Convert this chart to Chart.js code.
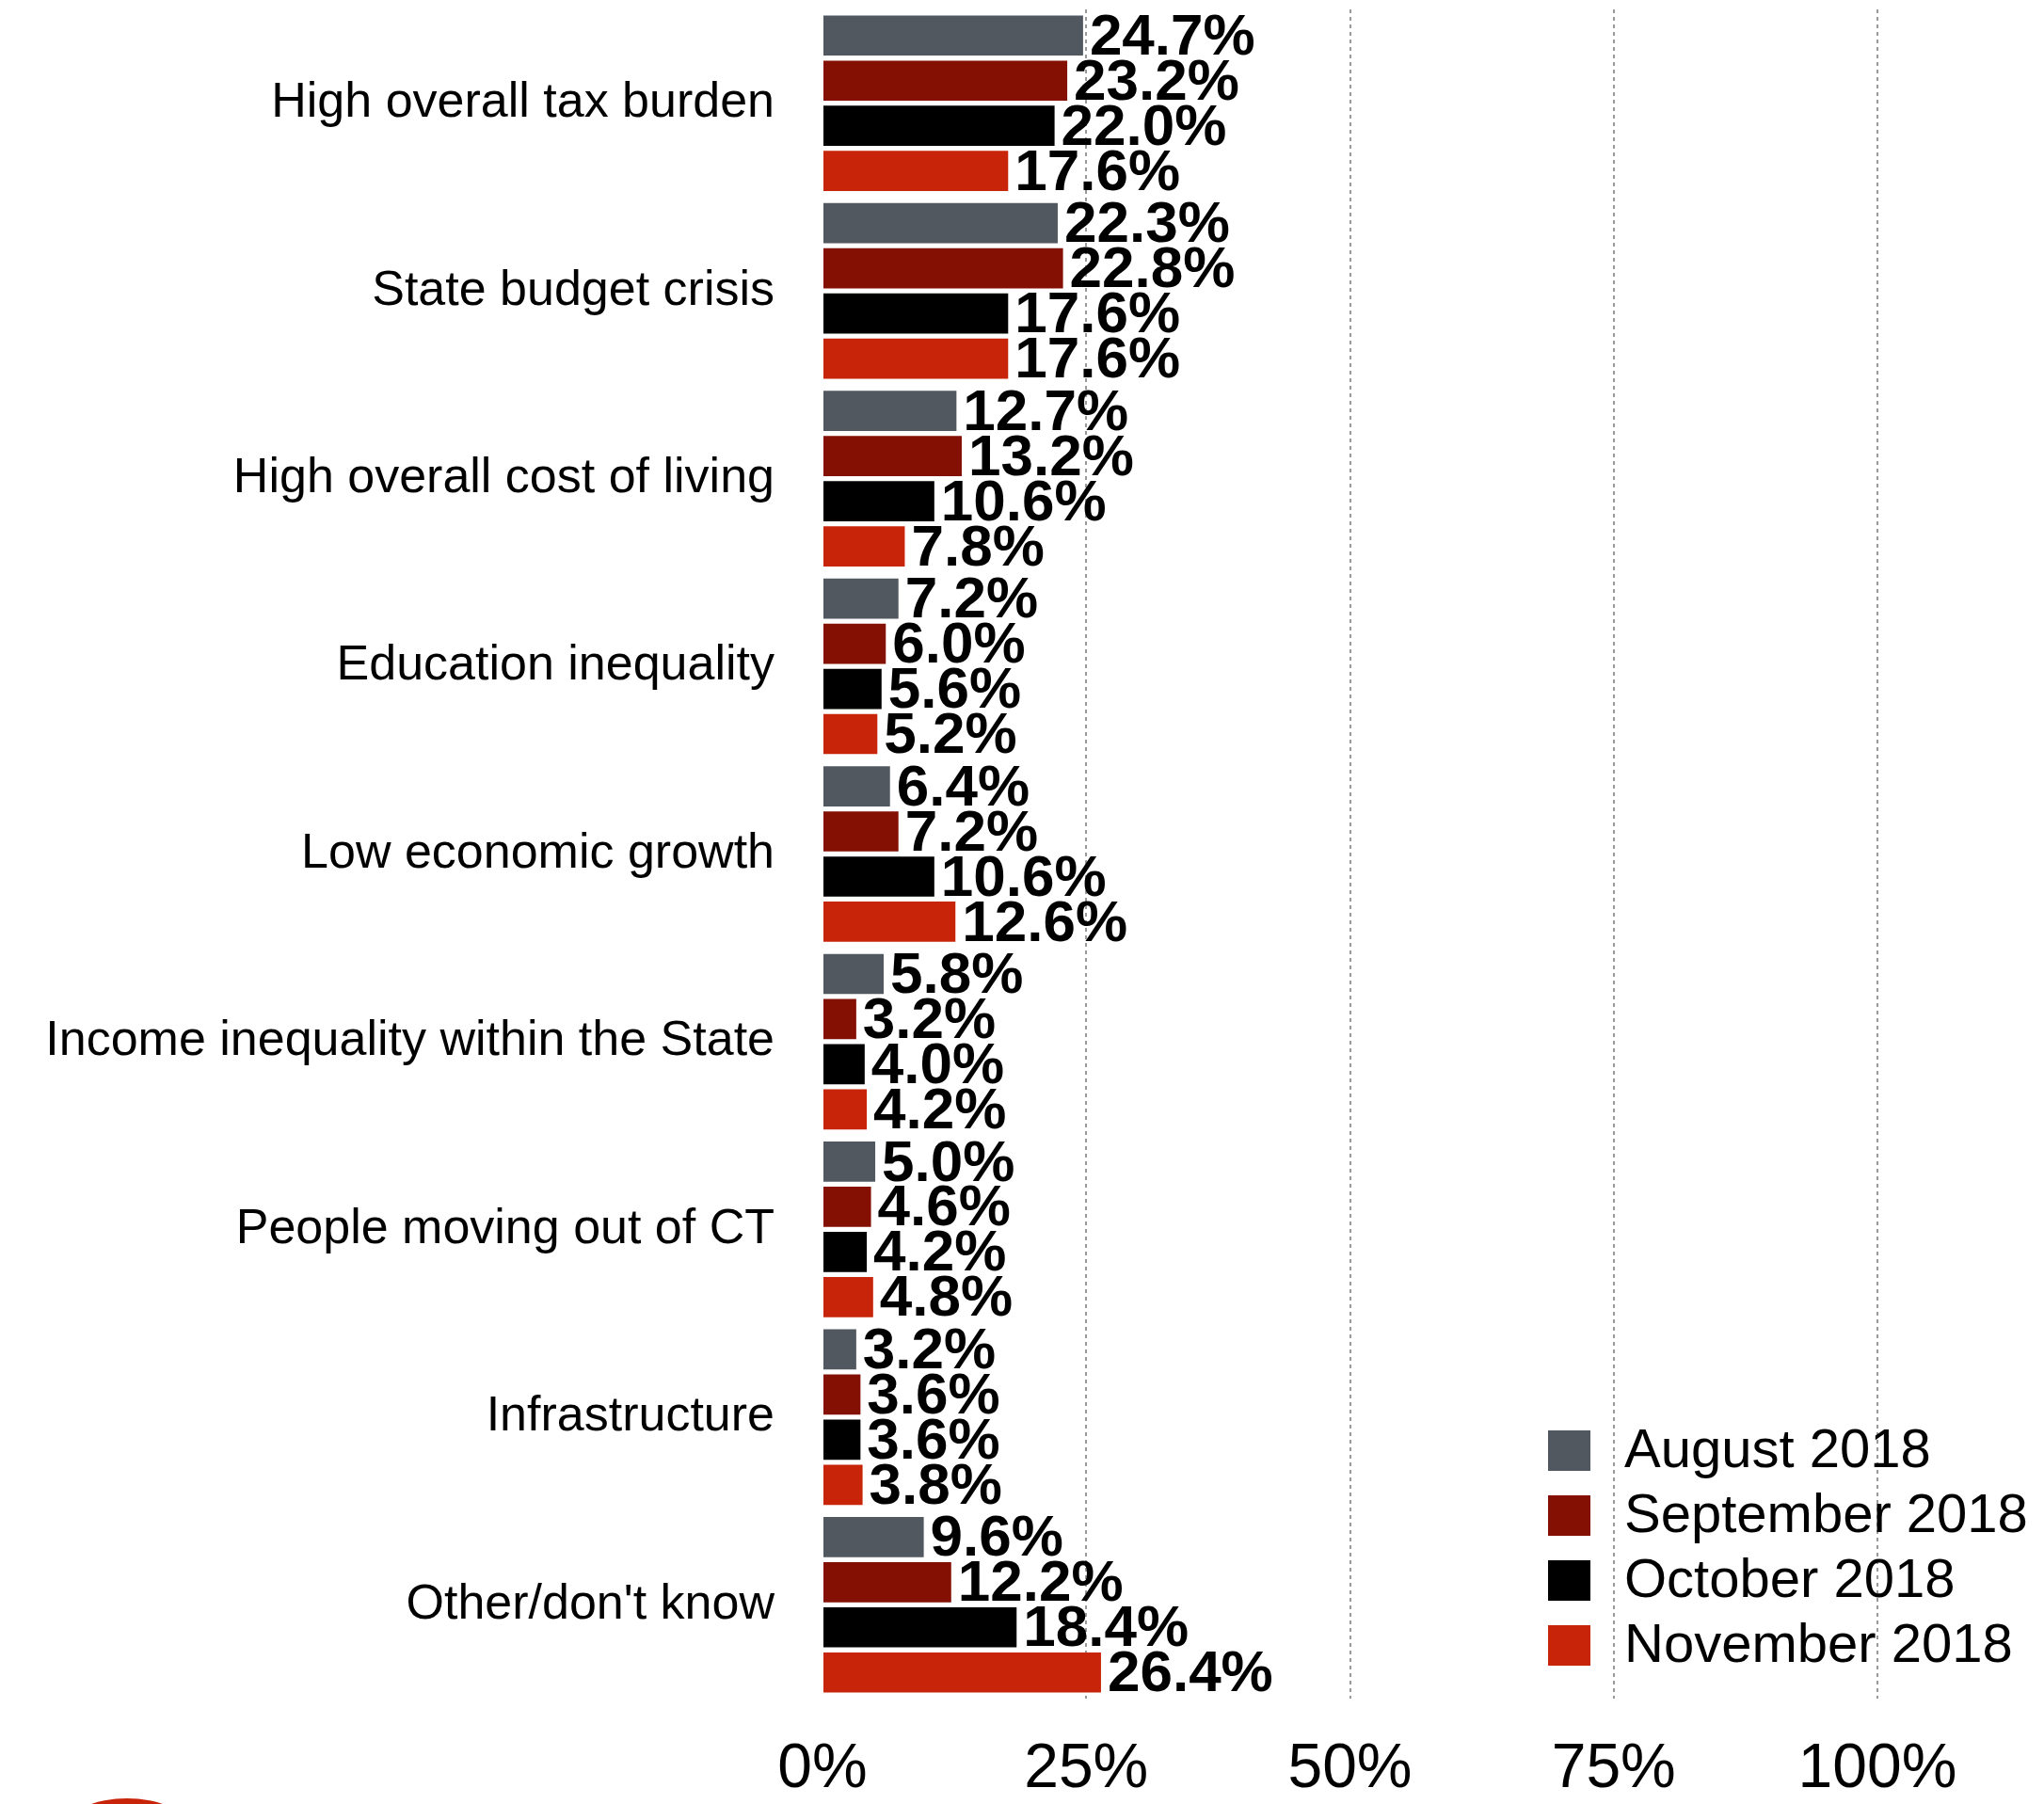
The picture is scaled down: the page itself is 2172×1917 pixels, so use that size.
<!DOCTYPE html>
<html>
<head>
<meta charset="utf-8">
<script src="https://cdn.jsdelivr.net/npm/chart.js@4/dist/chart.umd.min.js"></script>
<style>
  html, body { margin: 0; padding: 0; background: #fff; }
  canvas { display: block; }
</style>
</head>
<body>
<canvas id="chart" width="2172" height="1917"></canvas>
<script>
const categories = [
	"High overall tax burden",
	"State budget crisis",
	"High overall cost of living",
	"Education inequality",
	"Low economic growth",
	"Income inequality within the State",
	"People moving out of CT",
	"Infrastructure",
	"Other/don't know",
];
const august = [24.7, 22.3, 12.7, 7.2, 6.4, 5.8, 5.0, 3.2, 9.6];
const september = [23.2, 22.8, 13.2, 6.0, 7.2, 3.2, 4.6, 3.6, 12.2];
const october = [22.0, 17.6, 10.6, 5.6, 10.6, 4.0, 4.2, 3.6, 18.4];
const november = [17.6, 17.6, 7.8, 5.2, 12.6, 4.2, 4.8, 3.8, 26.4];
const xTicks = [0, 25, 50, 75, 100];

const FONT = "'Liberation Sans', Arial, sans-serif";

// value labels at the end of every bar
const valueLabels = {
	id: "valueLabels",
	afterDatasetsDraw(chart) {
		const ctx = chart.ctx;
		ctx.save();
		ctx.font = "bold 62px " + FONT;
		ctx.fillStyle = "#000";
		ctx.textAlign = "left";
		ctx.textBaseline = "middle";
		chart.data.datasets.forEach((ds, i) => {
			chart.getDatasetMeta(i).data.forEach((bar, j) => {
				ctx.fillText(ds.data[j].toFixed(1) + "%", bar.x + 7, bar.y + 3);
			});
		});
		ctx.restore();
	},
};

// legend drawn inside the plot, bottom right
const innerLegend = {
	id: "innerLegend",
	afterDraw(chart) {
		const ctx = chart.ctx;
		ctx.save();
		ctx.font = "58px " + FONT;
		ctx.textAlign = "left";
		ctx.textBaseline = "middle";
		chart.data.datasets.forEach((ds, i) => {
			const top = 1520 + i * 69;
			ctx.fillStyle = ds.backgroundColor;
			ctx.fillRect(1645, top, 45, 43);
			ctx.fillStyle = "#000";
			ctx.fillText(ds.label, 1726, top + 23);
		});
		// cut-off logo at the bottom left
		ctx.fillStyle = "#c8240a";
		ctx.beginPath();
		ctx.arc(135, 2034, 123, 0, Math.PI * 2);
		ctx.fill();
		ctx.restore();
	},
};

const ctx = document.getElementById("chart").getContext("2d");
new Chart(ctx, {
	type: "bar",
	data: {
		labels: categories,
		datasets: [
			{ label: "August 2018", data: august, backgroundColor: "#525860" },
			{ label: "September 2018", data: september, backgroundColor: "#841004" },
			{ label: "October 2018", data: october, backgroundColor: "#000000" },
			{ label: "November 2018", data: november, backgroundColor: "#c8240a" },
		],
	},
	options: {
		indexAxis: "y",
		responsive: false,
		animation: false,
		devicePixelRatio: 1,
		categoryPercentage: 0.962,
		barPercentage: 0.89,
		layout: { padding: { top: 10, right: 177, left: 0, bottom: 0 } },
		plugins: {
			legend: { display: false },
			tooltip: { enabled: false },
		},
		scales: {
			x: {
				min: 0,
				max: 100,
				afterBuildTicks: scale => {
					scale.ticks = xTicks.map(v => ({ value: v }));
				},
				afterFit: scale => {
					scale.height = 112;
					scale.paddingLeft = 0;
					scale.paddingRight = 0;
				},
				grid: {
					drawTicks: false,
					color: c => (c.tick && c.tick.value === 0 ? "rgba(0,0,0,0)" : "#999"),
					lineWidth: 2,
				},
				border: { display: false, dash: [4, 4] },
				ticks: {
					padding: 36,
					color: "#000",
					font: { family: FONT, size: 66 },
					callback: v => v + "%",
				},
			},
			y: {
				afterFit: scale => {
					scale.width = 874;
					scale.paddingTop = 0;
					scale.paddingBottom = 0;
				},
				grid: { display: false, drawTicks: false },
				border: { display: false },
				ticks: {
					padding: 51,
					color: "#000",
					font: { family: FONT, size: 52 },
				},
			},
		},
	},
	plugins: [valueLabels, innerLegend],
});
</script>
</body>
</html>
